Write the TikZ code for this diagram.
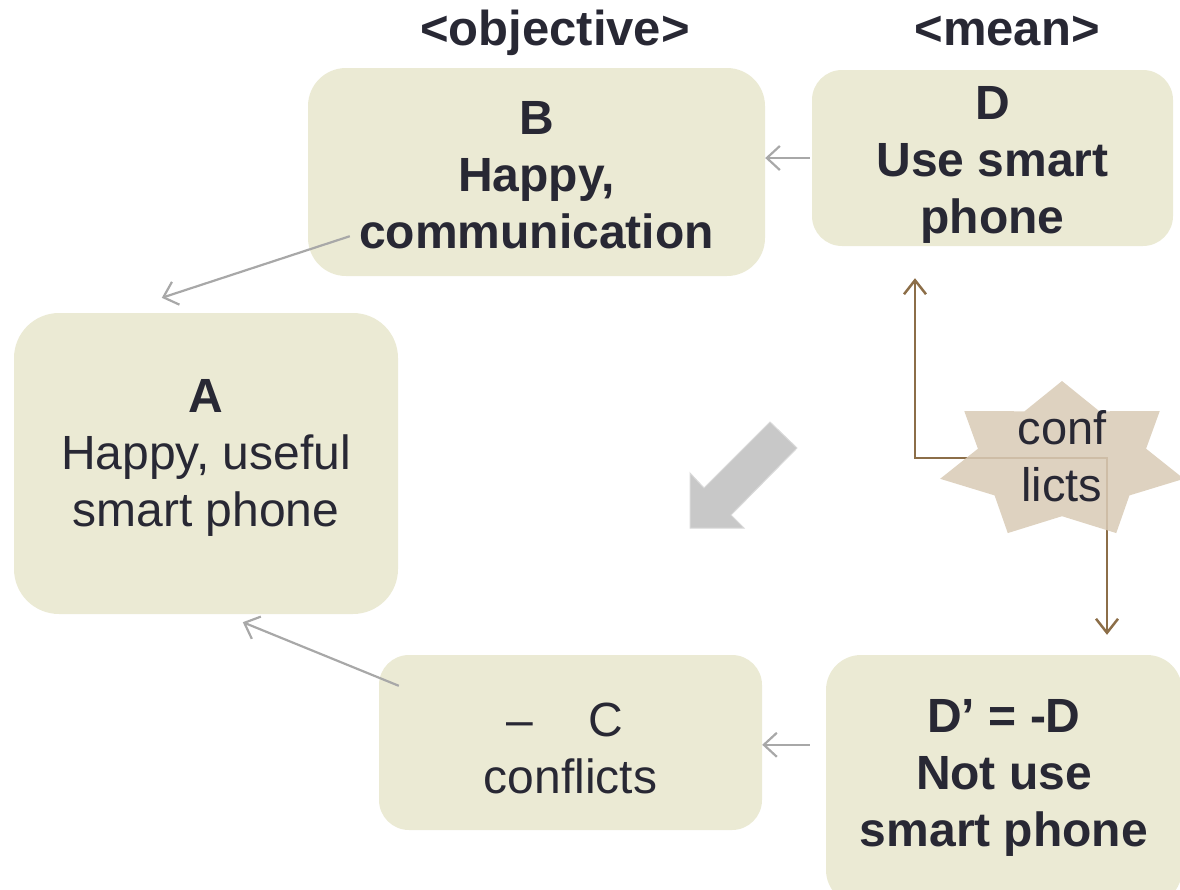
\documentclass[tikz,border=0pt]{standalone}
\usepackage{fontspec}
\setmainfont{Liberation Sans}
\usetikzlibrary{arrows.meta,calc}

\definecolor{boxfill}{RGB}{235,234,212}
\definecolor{ink}{RGB}{40,40,52}
\definecolor{linkgray}{RGB}{168,168,168}
\definecolor{tension}{RGB}{140,110,72}
\definecolor{starfill}{RGB}{217,203,182}
\definecolor{bigarrow}{RGB}{200,200,200}

\begin{document}
\begin{tikzpicture}[x=1pt,y=-1pt,
  card/.style={fill=boxfill, draw=none, inner sep=0pt},
  cardtext/.style={text=ink, align=center, inner sep=0pt,
               font=\fontsize{48}{57}\selectfont},
  boldtext/.style={cardtext, font=\fontsize{48}{57}\selectfont\bfseries},
  heading/.style={anchor=base, text=ink, inner sep=0pt,
                  font=\fontsize{49}{57}\selectfont\bfseries},
  link/.style={draw=linkgray, line width=2.2pt,
               -{Straight Barb[length=13pt,width=24pt,line width=2.2pt]}},
  tensionline/.style={draw=tension, line width=2.5pt,
               {Straight Barb[length=14pt,width=22pt]}-{Straight Barb[length=14pt,width=22pt]}},
  starlabel/.style={text=ink, align=center, inner sep=0pt,
                    font=\fontsize{47}{57}\selectfont}]

\useasboundingbox (0,0) rectangle (1180,889);
\clip (0,0) rectangle (1180,889);

% column headings
\node[heading] (obj) at (555,45) {<objective>};
\node[heading] (mean) at (1007,45) {<mean>};

% the five cards
\node[card, rounded corners=38pt, minimum width=457pt, minimum height=208pt]
  (B) at (536.5,172) {};
\node[card, rounded corners=30pt, minimum width=361pt, minimum height=176pt]
  (D) at (992.5,158) {};
\node[card, rounded corners=45pt, minimum width=384pt, minimum height=301pt]
  (A) at (206,463.5) {};
\node[card, rounded corners=30pt, minimum width=383pt, minimum height=175pt]
  (C) at (570.5,742.5) {};
\node[card, rounded corners=35pt, minimum width=356pt, minimum height=250pt]
  (Dp) at (1004,780) {};

% card texts
\node[boldtext] (Bt) at ($(B.center)+(0,3)$) {B\\Happy,\\communication};
\node[boldtext] (Dt) at ($(D.center)+(0,7)$) {D\\Use smart\\phone};
\node[cardtext] (At) at ($(A.center)+(0,-6)$) {\textbf{A}\\Happy, useful\\smart phone};
\node[cardtext] (Ct) at ($(C.center)+(0,6)$) {\textendash\hspace{1.15em}C\hspace*{12pt}\\conflicts};
\node[boldtext] (Dpt) at ($(Dp.center)+(0,-2)$) {D’ = -D\\Not use\\smart phone};

% grey links between the cards
\coordinate (dStart) at ($(D.west)+(-2,0)$);
\draw[link] (dStart) -- (dStart -| B.east);
\draw[link] ($(B.south west)+(42,-40)$) -- ($(A.north west)+(148,-15)$);
\draw[link] ($(C.north west)+(20,31)$) -- ($(A.south west)+(229,8)$);
\coordinate (dpStart) at ($(Dp.north west)+(-16,90)$);
\draw[link] (dpStart) -- (dpStart -| C.east);

% large block arrow in the middle
\fill[bigarrow, draw=bigarrow!70!white, line width=1pt]
  (690,528) -- (690,473) -- (704,488) -- (770,422) -- (797,448)
  -- (731,515) -- (744,528) -- cycle;

% brown double-headed connector D <-> D'
\coordinate (up) at ($(D.south)+(-77.5,32)$);
\coordinate (down) at ($(Dp.north)+(103,-20)$);
\draw[tensionline] (up) -- ++(0,180) -| (down);

% seven-pointed star laid over the connector
\coordinate (starc) at (1062,461);
\fill[starfill, opacity=0.86]
  plot[variable=\k, samples at={0,...,13}]
    ({1062+125*(1-0.31*mod(\k,2))*cos(90+\k*180/7)},
     {461-80*(1-0.31*mod(\k,2))*sin(90+\k*180/7)}) -- cycle;
\node[starlabel] (cf) at ($(starc)+(0,-5)$) {conf\\licts};

\end{tikzpicture}
\end{document}
